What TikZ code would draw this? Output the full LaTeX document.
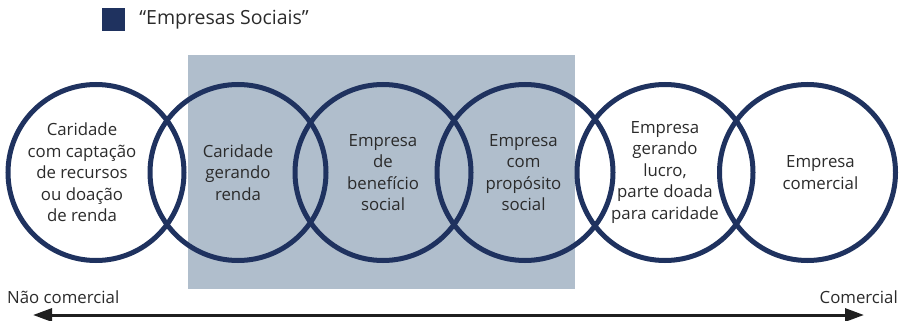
\documentclass[tikz,border=0pt]{standalone}
\usepackage{fontspec}
\setmainfont{Open Sans}
\usetikzlibrary{arrows.meta}
\definecolor{navy}{HTML}{1F325F}
\definecolor{boxgray}{HTML}{B0BECC}
\definecolor{txt}{HTML}{2B2B2B}
\begin{document}
\begin{tikzpicture}[x=1pt,y=-1pt,
  circ/.style={circle, draw=navy, line width=5pt, minimum size=176pt, inner sep=0pt},
  ctext/.style={align=center, text=txt, inner sep=0pt, font=\fontsize{16.8}{21.5}\selectfont},
  lbl/.style={text=txt, inner sep=0pt, font=\fontsize{16.8}{19}\selectfont}]
\useasboundingbox (0,0) rectangle (907,321);
\fill[boxgray] (188,55) rectangle (575,289);
\node[circ] (c1) at (96,172.5) {};
\node[circ] (c2) at (238,172.5) {};
\node[circ] (c3) at (383,172.5) {};
\node[circ] (c4) at (525,172.5) {};
\node[circ] (c5) at (665,172.5) {};
\node[circ] (c6) at (807.5,172.5) {};
\node[ctext] (t1) at ([xshift=-14pt]c1.center) {Caridade\\com captação\\de recursos\\ou doação\\de renda};
\node[ctext] (t2) at (c2.center) {Caridade\\gerando\\renda};
\node[ctext] (t3) at (c3.center) {Empresa\\de\\benefício\\social};
\node[ctext] (t4) at ([xshift=-1.5pt]c4.center) {Empresa\\com\\propósito\\social};
\node[ctext] (t5) at (c5.center) {Empresa\\gerando\\lucro,\\parte doada\\para caridade};
\node[ctext] (t6) at ([xshift=13pt]c6.center) {Empresa\\comercial};
\node[fill=navy, minimum size=23pt, inner sep=0pt] (leg) at (113.5,19.5) {};
\node[lbl, anchor=west, font=\fontsize{19.5}{22}\selectfont] (legt) at ([xshift=14pt]leg.east) {“Empresas Sociais”};
\coordinate (L) at (33,315);
\coordinate (R) at (864,315);
\draw[line width=3pt, draw=black!88, {Triangle[length=19pt,width=13pt]}-{Triangle[length=19pt,width=13pt]}] (L) -- (R);
\node[lbl, anchor=base west] (nc) at (7,303) {Não comercial};
\node[lbl, anchor=base east] (co) at (898,303) {Comercial};
\end{tikzpicture}
\end{document}
